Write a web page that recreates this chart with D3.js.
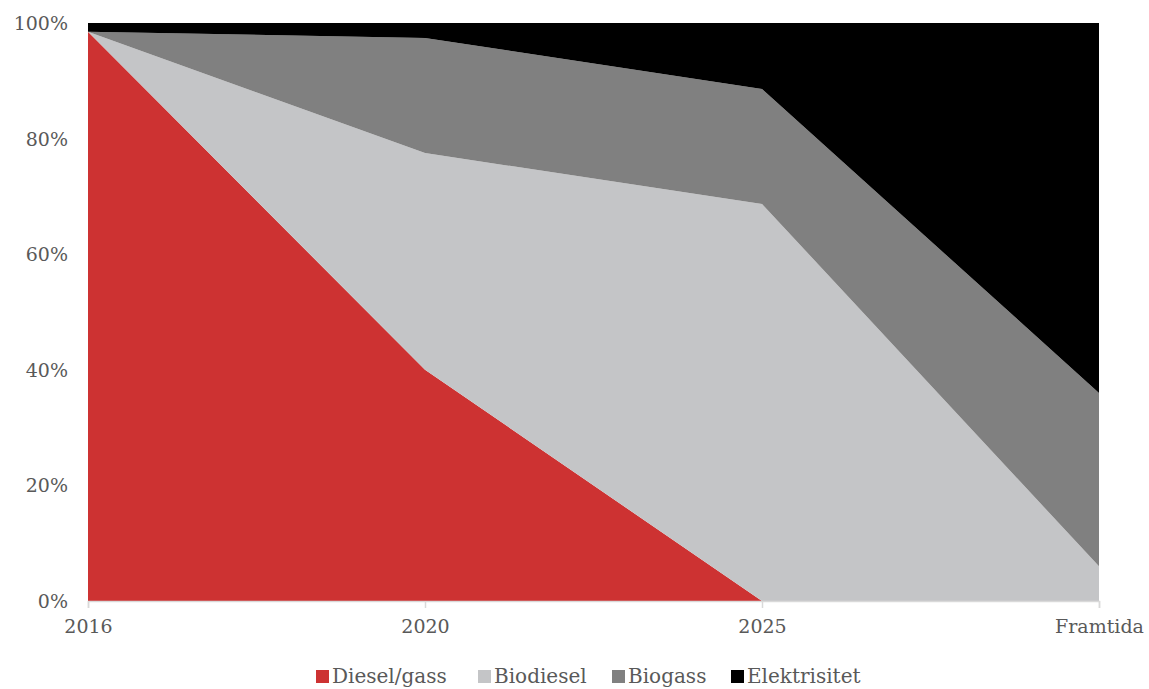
<!DOCTYPE html>
<html>
<head>
<meta charset="utf-8">
<script src="https://cdn.jsdelivr.net/npm/d3@7"></script>
<style>
  body { margin: 0; background: #fff; }
  text { font-family: "DejaVu Serif", "Liberation Serif", serif; }
</style>
</head>
<body>
<div id="chart"></div>
<script>
// categories and series (share of 100%)
const years = ["2016", "2020", "2025", "Framtida"];
const series = ["Diesel/gass", "Biodiesel", "Biogass", "Elektrisitet"];
const diesel = [98.5, 40, 0, 0];
const biodiesel = [0, 37.5, 68.7, 6];
const biogass = [0, 19.9, 19.9, 30];
const elektrisitet = [1.5, 2.6, 11.4, 64];
const yTicks = [0, 20, 40, 60, 80, 100];
const colors = ["#cd3232", "#c4c5c7", "#808080", "#000000"];

const width = 1149, height = 689;
const margin = { left: 88, right: 50, top: 23, bottom: 88 };

const svg = d3.select("#chart").append("svg")
  .attr("width", width)
  .attr("height", height);

// build rows for the stack
const rows = years.map((y, i) => ({
  year: y,
  "Diesel/gass": diesel[i],
  "Biodiesel": biodiesel[i],
  "Biogass": biogass[i],
  "Elektrisitet": elektrisitet[i]
}));

const x = d3.scalePoint()
  .domain(years)
  .range([margin.left, width - margin.right]);

const y = d3.scaleLinear()
  .domain([0, 100])
  .range([height - margin.bottom, margin.top]);

const stacked = d3.stack().keys(series)(rows);

const area = d3.area()
  .x(d => x(d.data.year))
  .y0(d => y(d[0]))
  .y1(d => y(d[1]));

svg.selectAll(".layer")
  .data(stacked)
  .enter()
  .append("path")
  .attr("class", "layer")
  .attr("d", area)
  .attr("fill", (d, i) => colors[i]);

// y axis labels (no line)
svg.selectAll(".ylab")
  .data(yTicks)
  .enter()
  .append("text")
  .attr("class", "ylab")
  .attr("x", 68)
  .attr("y", d => y(d) + 7)
  .attr("text-anchor", "end")
  .style("font-size", "19px")
  .style("fill", "#595959")
  .text(d => d + "%");

// x axis
const xAxis = svg.append("g")
  .attr("transform", `translate(0,${y(0)})`)
  .call(d3.axisBottom(x).tickSize(7).tickPadding(12));
xAxis.select(".domain").attr("stroke", "#d9d9d9").attr("stroke-width", 1.5);
xAxis.selectAll(".tick line").attr("stroke", "#d9d9d9").attr("stroke-width", 1.5);
xAxis.selectAll(".tick text")
  .style("font-family", "'DejaVu Serif', serif")
  .style("font-size", "19px")
  .style("fill", "#595959");

// legend
const legendX = [316, 478, 612, 731];
const legend = svg.append("g").attr("transform", "translate(0,674)");
legend.selectAll("rect")
  .data(series)
  .enter()
  .append("rect")
  .attr("x", (d, i) => legendX[i])
  .attr("y", -4)
  .attr("width", 13)
  .attr("height", 13)
  .attr("fill", (d, i) => colors[i]);
legend.selectAll("text")
  .data(series)
  .enter()
  .append("text")
  .attr("x", (d, i) => legendX[i] + 16)
  .attr("y", 9)
  .style("font-size", "20px")
  .style("fill", "#595959")
  .text(d => d);
</script>
</body>
</html>
